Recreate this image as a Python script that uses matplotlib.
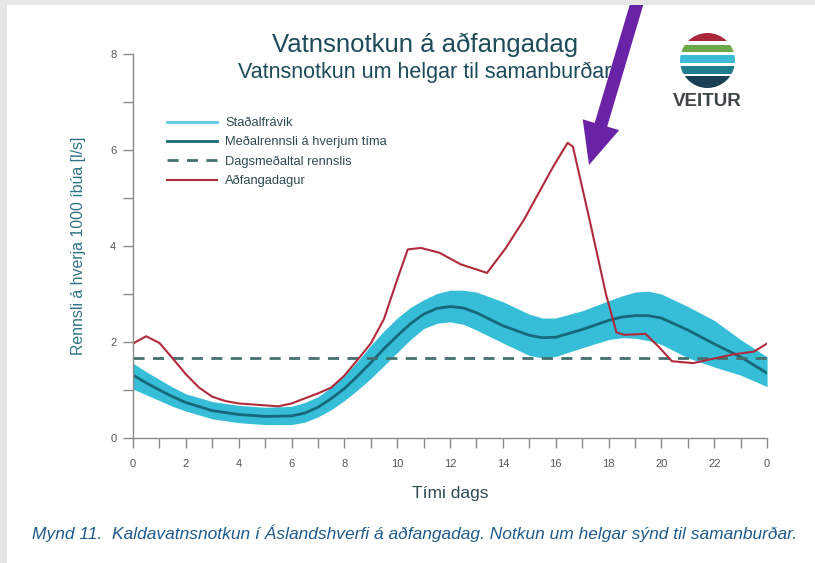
import matplotlib.pyplot as plt
import matplotlib.patches as mpatches
from matplotlib.lines import Line2D
from matplotlib.transforms import IdentityTransform

plt.rcParams['font.family'] = ['Liberation Sans', 'DejaVu Sans']

# meðalrennsli um helgar og staðalfrávik (klst, l/s á 1000 íbúa)
hours = [0, 0.5, 1, 1.5, 2, 3, 4, 5, 6, 6.5, 7, 7.5, 8, 8.5, 9, 9.5, 10, 10.5, 11, 11.5, 12,
         12.5, 13, 14, 15, 15.5, 16, 17, 18, 18.5, 19, 19.5, 20, 21, 22, 23, 24]
mean_flow = [1.31, 1.15, 1.00, 0.86, 0.74, 0.57, 0.49, 0.45, 0.46, 0.52, 0.64, 0.82, 1.03,
             1.29, 1.57, 1.86, 2.13, 2.38, 2.58, 2.70, 2.74, 2.71, 2.61, 2.34, 2.14, 2.09,
             2.10, 2.26, 2.45, 2.52, 2.55, 2.55, 2.50, 2.25, 1.96, 1.69, 1.35]
band_upper = [1.56, 1.38, 1.22, 1.06, 0.92, 0.76, 0.68, 0.64, 0.66, 0.74, 0.86, 1.06, 1.30,
              1.60, 1.93, 2.23, 2.50, 2.72, 2.88, 3.01, 3.08, 3.08, 3.04, 2.84, 2.58, 2.50,
              2.50, 2.65, 2.86, 2.96, 3.04, 3.06, 3.00, 2.74, 2.45, 2.05, 1.69]
band_lower = [1.02, 0.90, 0.78, 0.66, 0.56, 0.40, 0.32, 0.28, 0.28, 0.33, 0.44, 0.59, 0.78,
              1.00, 1.24, 1.51, 1.78, 2.05, 2.28, 2.39, 2.42, 2.37, 2.25, 1.98, 1.72, 1.67,
              1.70, 1.88, 2.05, 2.09, 2.08, 2.03, 1.95, 1.67, 1.48, 1.31, 1.07]
daily_mean = 1.66

# aðfangadagur
xmas_h = [0, 0.5, 1, 1.5, 2, 2.5, 3, 3.5, 4, 5, 5.5, 6, 7, 7.5, 8, 8.5, 9, 9.5, 10, 10.4,
          10.9, 11.6, 12.4, 13.4, 14.1, 14.8, 15.3, 15.9, 16.45, 16.65, 17.3, 17.9, 18.3,
          18.6, 19.4, 19.9, 20.4, 21.2, 21.95, 22.7, 23.5, 24]
xmas = [1.97, 2.12, 1.98, 1.66, 1.33, 1.05, 0.86, 0.77, 0.72, 0.68, 0.66, 0.72, 0.93, 1.05,
        1.30, 1.63, 1.97, 2.48, 3.30, 3.93, 3.96, 3.86, 3.62, 3.44, 3.95, 4.55, 5.05, 5.65,
        6.15, 6.07, 4.50, 3.00, 2.20, 2.15, 2.17, 1.90, 1.60, 1.56, 1.65, 1.74, 1.80, 1.97]

xlabels = ['0', '2', '4', '6', '8', '10', '12', '14', '16', '18', '20', '22', '0']

fig = plt.figure(figsize=(8.15, 5.63), dpi=100)
ax = fig.add_axes([0.1632, 0.222, 0.778, 0.682])

band_c = '#36bdd8'
mean_c = '#176878'
dash_c = '#44706e'
red_c = '#b02a3c'

ax.fill_between(hours, band_lower, band_upper, color=band_c, lw=0)
ax.plot(hours, mean_flow, color=mean_c, lw=2)
ax.axhline(daily_mean, color=dash_c, lw=2, ls=(0, (4, 3)))
ax.plot(xmas_h, xmas, color=red_c, lw=1.5)

ax.set_xlim(0, 24)
ax.set_ylim(0, 8)
ax.set_xticks(range(0, 25, 2))
ax.set_xticklabels(xlabels)
ax.set_xticks(range(1, 24, 2), minor=True)
ax.set_yticks([0, 2, 4, 6, 8])
ax.set_yticks([1, 3, 5, 7], minor=True)
for s in ['top', 'right']:
    ax.spines[s].set_visible(False)
for s in ['left', 'bottom']:
    ax.spines[s].set_color('#8a8a8a')
    ax.spines[s].set_linewidth(1)
ax.tick_params(which='both', direction='out', length=7, width=1, color='#8a8a8a',
               labelsize=8, labelcolor='#555555')
ax.tick_params(axis='x', which='both', pad=8)
ax.tick_params(axis='y', which='both', pad=5)

ax.set_xlabel('Tími dags', fontsize=12.5, color='#2d4a55', labelpad=12)
ax.set_ylabel('Rennsli á hverja 1000 íbúa [l/s]', fontsize=11.4, color='#2f7285', labelpad=17)

handles = [Line2D([], [], color='#5ccbe2', lw=2),
           Line2D([], [], color=mean_c, lw=2),
           Line2D([], [], color=dash_c, lw=2, ls=(0, (4, 3))),
           Line2D([], [], color=red_c, lw=1.5)]
labels = ['Staðalfrávik', 'Meðalrennsli á hverjum tíma', 'Dagsmeðaltal rennslis', 'Aðfangadagur']
ax.legend(handles, labels, loc='upper left', bbox_to_anchor=(0.035, 0.866), frameon=False,
          fontsize=9.3, handlelength=3.9, handletextpad=0.6, labelspacing=0.55,
          labelcolor='#2f4a55')

fig.text(0.521, 0.921, 'Vatnsnotkun á aðfangadag', ha='center', va='center',
         fontsize=18.5, color='#1d4b5a')
fig.text(0.521, 0.872, 'Vatnsnotkun um helgar til samanburðar', ha='center', va='center',
         fontsize=15.5, color='#1d4b5a')

fig.text(0.509, 0.053, 'Mynd 11.  Kaldavatnsnotkun í Áslandshverfi á aðfangadag. Notkun um helgar sýnd til samanburðar.',
         ha='center', va='center', fontsize=12.5, style='italic', color='#1f5a8c')

# merki Veitna
lax = fig.add_axes([680 / 815, 1 - 88 / 563, 55 / 815, 55 / 563])
lax.set_xlim(-1, 1)
lax.set_ylim(-1, 1)
lax.set_aspect('equal')
lax.axis('off')
stripes = [(0.70, 1.0, '#a8283a'), (0.30, 0.58, '#6aa84a'), (-0.10, 0.20, '#3cbcd4'),
           (-0.50, -0.20, '#1f7d8e'), (-1.0, -0.58, '#1b3f55')]
circ = mpatches.Circle((0, 0), 1, transform=lax.transData, facecolor='none', edgecolor='none')
lax.add_patch(circ)
for y0, y1, c in stripes:
    r = mpatches.Rectangle((-1, y0), 2, y1 - y0, color=c, lw=0)
    lax.add_patch(r)
    r.set_clip_path(circ)
fig.text(707 / 815, 1 - 101 / 563, 'VEITUR', ha='center', va='center', fontsize=13.5,
         fontweight='bold', color='#3f4447')

# ör
arrow = mpatches.FancyArrow(640, 570, -51, -172, width=13, head_width=38, head_length=42,
                            length_includes_head=True, color='#6a22a6', lw=0,
                            transform=IdentityTransform())
fig.add_artist(arrow)

# rammi skjáskots
fig.add_artist(mpatches.Rectangle((0, 0.991), 1, 0.009, transform=fig.transFigure,
                                  color='#e6e6e6', lw=0))
fig.add_artist(mpatches.Rectangle((0, 0), 0.008, 1, transform=fig.transFigure,
                                  color='#e6e6e6', lw=0))

fig.savefig('out.png', dpi=100)
